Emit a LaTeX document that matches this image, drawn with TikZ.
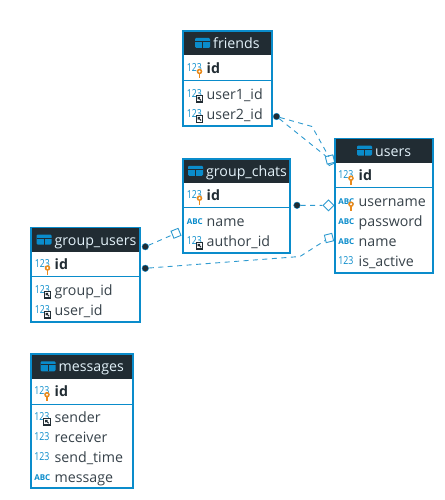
\documentclass[tikz,border=0pt]{standalone}
\usepackage{fontspec}
\setmainfont{Open Sans}
\usetikzlibrary{shapes.geometric}
\definecolor{tblblue}{HTML}{0A8CCB}
\definecolor{linkblue}{HTML}{2F9BD0}
\definecolor{headdark}{HTML}{212C33}
\definecolor{txtdark}{HTML}{37424A}
\definecolor{keyorange}{HTML}{E98A1C}
\tikzset{
  tablebox/.style={fill=white,rectangle,inner sep=0pt,anchor=north west},
  headbox/.style={fill=headdark,rectangle,inner sep=0pt,anchor=north west},
  rowtext/.style={anchor=base west,inner sep=0pt,text=txtdark,font=\fontsize{14.2}{15}\selectfont},
  keytext/.style={rowtext,font=\fontsize{14.2}{15}\selectfont\bfseries,text=headdark},
  titletext/.style={anchor=base west,inner sep=0pt,text=white!88!tblblue,font=\fontsize{14.2}{15}\selectfont},
  numicon/.style={anchor=base west,inner sep=0pt,text=tblblue,transform shape,xscale=.8,font=\fontsize{11}{12}\selectfont},
  abcicon/.style={anchor=base west,inner sep=0pt,text=tblblue,font=\fontsize{8}{9}\selectfont\bfseries},
  link/.style={draw=linkblue,line width=0.9pt,dash pattern=on 5pt off 4.5pt},
  sepline/.style={draw=tblblue,line width=0.9pt},
  borderline/.style={draw=tblblue,line width=1.9pt},
  dotend/.style={circle,fill=headdark,draw=tblblue,line width=0.4pt,inner sep=0pt,minimum size=6.6pt},
  openend/.style={rectangle,draw=linkblue,fill=white,line width=0.9pt,inner sep=0pt,minimum size=7.6pt},
}
% #1 name, #2 left, #3 top, #4 right, #5 bottom, #6 header bottom, #7 separator, #8 title, #9 title x
\newcommand\dbtable[9]{%
  \pgfmathsetmacro\tw{#4-#2}\pgfmathsetmacro\th{#5-#3}\pgfmathsetmacro\hh{#6-#3}%
  \node[tablebox,minimum width=\tw pt,minimum height=\th pt] (#1) at (#2,#3) {};
  \node[headbox,minimum width=\tw pt,minimum height=\hh pt] (#1-head) at (#2,#3) {};
  \draw[sepline] (#2,#7) -- (#4,#7);
  \draw[borderline] (#2,#3) rectangle (#4,#5);
  \pgfmathsetmacro\ix{#9-18}\pgfmathsetmacro\iy{(#3+#6)/2}%
  \fill[tblblue,rounded corners=1.2pt] (\ix,\iy-5) rectangle +(15,10);
  \draw[headdark,line width=0.8pt] (\ix,\iy-1.6) -- +(15,0) (\ix+7.5,\iy-1.6) -- +(0,6.6);
  \pgfmathsetmacro\ty{\iy+5.5}%
  \node[titletext] (#1-title) at (#9,\ty) {#8};
}
\newcommand\keyicon[2]{%
  \draw[keyorange,line width=1.2pt] (#1,#2+2) -- (#1,#2+6.5);
  \fill[keyorange] (#1,#2) circle (2.8pt);
  \fill[white] (#1,#2) circle (1.2pt);
}
\newcommand\fkicon[2]{%
  \draw[fill=white,draw=headdark,line width=1.2pt] (#1-3.2,#2-3.2) rectangle (#1+3.2,#2+3.2);
  \draw[headdark,line width=1pt] (#1+1.6,#2+1.6) -- (#1-1.4,#2-1.4) (#1-1.4,#2+0.6) -- (#1-1.4,#2-1.4) -- (#1+0.6,#2-1.4);
}
% #1 name, #2 table left, #3 row centre y, #4 text, #5 text x, #6 kind
\newcommand\dbrow[6]{%
  \pgfmathsetmacro\bx{#2+3.6}\pgfmathsetmacro\by{#3+5}\pgfmathsetmacro\cy{#3+3}%
  \pgfmathsetmacro\kx{#2+16.5}\pgfmathsetmacro\ky{#3+3.2}\pgfmathsetmacro\fy{#3+4.7}%
  \ifnum#6=3 \node[abcicon] (#1-icon) at (\bx,\cy) {ABC};\else \node[numicon] (#1-icon) at (\bx,\cy) {123};\fi
  \ifnum#6=1 \keyicon{\kx}{\ky}\fi
  \ifnum#6=2 \fkicon{\kx}{\fy}\fi
  \ifnum#6=1 \node[keytext] (#1) at (#5,\by) {#4};\else \node[rowtext] (#1) at (#5,\by) {#4};\fi
}
\begin{document}
\begin{tikzpicture}[x=1pt,y=-1pt]
\useasboundingbox (0,0) rectangle (444,500);
\fill[white] (0,0) rectangle (444,500);
% relation ends
\node[dotend] (f2a) at (276.5,116.5) {};
\node[openend,rotate=26] (ua) at (331,160.5) {};
\node[openend,rotate=14] (ub) at (330,159.5) {};
\node[dotend] (gc) at (297,205.3) {};
\node[openend,rotate=45] (uc) at (328.5,205.3) {};
\node[dotend] (gu1) at (145.3,246.7) {};
\node[openend,rotate=22] (gcd) at (176,233.3) {};
\node[dotend] (gu2) at (145.3,268.3) {};
\node[openend,rotate=14] (ud) at (329,238) {};
\coordinate (bend1) at (312,126.5);
\coordinate (bend2) at (300,256.5);
\draw[link] (f2a) -- (bend1) -- (ua);
\draw[link] (f2a) -- (ub);
\draw[link] (gc) -- (uc);
\draw[link] (gu1) -- (gcd);
\draw[link] (gu2) -- (bend2) -- (ud);
% tables
\dbtable{friends}{183.4}{31.4}{272.4}{125.6}{54.5}{80.5}{friends}{213}
\dbrow{friends-id}{183}{68.3}{id}{206.5}{1}
\dbrow{friends-u1}{183}{94.2}{user1\_id}{206.5}{2}
\dbrow{friends-u2}{183}{114.2}{user2\_id}{206.5}{2}

\dbtable{users}{335}{138.5}{433}{272.8}{162.5}{187.5}{users}{375}
\dbrow{users-id}{334.5}{175}{id}{358.5}{1}
\dbrow{users-un}{334.5}{201}{username}{358.5}{3}
\keyicon{351}{204.2}
\dbrow{users-pw}{334.5}{221}{password}{358.5}{3}
\dbrow{users-nm}{334.5}{241}{name}{358.5}{3}
\dbrow{users-ac}{334.5}{261}{is\_active}{358.5}{0}

\dbtable{chats}{183.4}{159}{290.2}{252.8}{182.5}{207.5}{group\_chats}{206}
\dbrow{chats-id}{183}{195}{id}{206.5}{1}
\dbrow{chats-nm}{183}{221}{name}{206.5}{3}
\dbrow{chats-au}{183}{241}{author\_id}{206.5}{2}

\dbtable{gusers}{31.4}{227.5}{140.4}{321.8}{251.5}{276.5}{group\_users}{54.5}
\dbrow{gusers-id}{31}{264.8}{id}{54.5}{1}
\dbrow{gusers-gr}{31}{290}{group\_id}{54.5}{2}
\dbrow{gusers-us}{31}{310}{user\_id}{54.5}{2}

\dbtable{msgs}{30.8}{354}{132.6}{488.4}{378.5}{404}{messages}{58.5}
\dbrow{msgs-id}{30.5}{391.5}{id}{54.5}{1}
\dbrow{msgs-se}{30.5}{417}{sender}{54.5}{2}
\dbrow{msgs-re}{30.5}{437}{receiver}{54.5}{0}
\dbrow{msgs-st}{30.5}{457}{send\_time}{54.5}{0}
\dbrow{msgs-me}{30.5}{477}{message}{54.5}{3}
\end{tikzpicture}
\end{document}
